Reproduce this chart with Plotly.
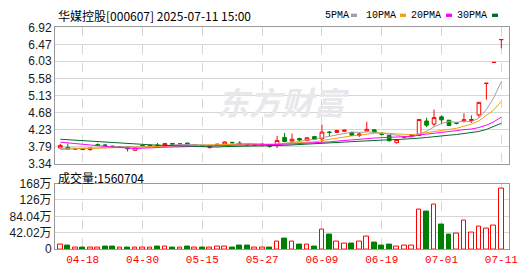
import plotly.graph_objects as go
import pandas as pd

# ---------------- data ----------------
dates = ["04-15", "04-16", "04-17", "04-18", "04-21", "04-22", "04-23", "04-24", "04-25", "04-28",
         "04-29", "04-30", "05-06", "05-07", "05-08", "05-09", "05-12", "05-13", "05-14", "05-15",
         "05-16", "05-19", "05-20", "05-21", "05-22", "05-23", "05-26", "05-27", "05-28", "05-29",
         "05-30", "06-03", "06-04", "06-05", "06-06", "06-09", "06-10", "06-11", "06-12", "06-13",
         "06-16", "06-17", "06-18", "06-19", "06-20", "06-23", "06-24", "06-25", "06-26", "06-27",
         "06-30", "07-01", "07-02", "07-03", "07-04", "07-07", "07-08", "07-09", "07-10", "07-11"]

# closes of the 29 sessions before the first shown day (only used to warm up the moving averages)
pre_close = [4.12, 4.15, 4.18, 4.14, 4.10, 4.13, 4.16, 4.12, 4.11, 4.14,
             4.15, 4.13, 4.10, 4.12, 4.16, 4.11, 4.08, 4.09, 4.06, 4.00,
             3.60, 3.55, 3.68, 3.74, 3.78, 3.72, 3.70, 3.76, 3.73]

opens = [3.75, 3.77, 3.72, 3.73, 3.71, 3.84, 3.83, 3.80, 3.78, 3.79,
         3.69, 3.82, 3.80, 3.83, 3.80, 3.87, 3.85, 3.88, 3.82, 3.81,
         3.76, 3.82, 3.85, 3.90, 3.88, 3.85, 3.82, 3.83, 3.80, 3.82,
         4.03, 3.93, 4.00, 3.95, 4.05, 3.99, 4.17, 4.16, 4.19, 4.16,
         4.08, 4.20, 4.23, 4.13, 4.08, 3.89, 4.03, 4.07, 4.08, 4.46,
         4.38, 4.57, 4.48, 4.41, 4.47, 4.47, 4.62, 5.45, 6.00, 6.60]
highs = [3.86, 3.87, 3.75, 3.75, 3.76, 3.87, 3.85, 3.81, 3.80, 3.79,
         3.77, 3.83, 3.83, 3.88, 3.88, 3.88, 3.87, 3.89, 3.85, 3.82,
         3.81, 3.86, 3.92, 3.91, 3.93, 3.86, 3.85, 3.86, 3.83, 4.07,
         4.15, 4.13, 4.02, 4.03, 4.07, 4.36, 4.19, 4.23, 4.23, 4.18,
         4.16, 4.44, 4.25, 4.17, 4.09, 3.98, 4.07, 4.11, 4.50, 4.55,
         4.76, 4.61, 4.49, 4.43, 4.66, 4.61, 4.95, 5.45, 6.00, 6.60]
lows = [3.74, 3.70, 3.70, 3.70, 3.68, 3.80, 3.80, 3.77, 3.76, 3.66,
        3.67, 3.79, 3.79, 3.80, 3.79, 3.84, 3.84, 3.82, 3.81, 3.79,
        3.74, 3.81, 3.84, 3.87, 3.84, 3.82, 3.81, 3.79, 3.76, 3.75,
        3.91, 3.92, 3.94, 3.94, 3.97, 3.90, 4.05, 4.15, 4.18, 4.07,
        4.04, 4.18, 4.16, 4.08, 3.93, 3.87, 4.00, 4.05, 4.06, 4.30,
        4.32, 4.38, 4.33, 4.37, 4.42, 4.41, 4.56, 5.02, 6.00, 6.37]
closes = [3.82, 3.72, 3.73, 3.71, 3.75, 3.83, 3.82, 3.78, 3.79, 3.73,
          3.76, 3.81, 3.82, 3.81, 3.87, 3.85, 3.86, 3.83, 3.84, 3.80,
          3.81, 3.85, 3.91, 3.89, 3.86, 3.83, 3.84, 3.85, 3.79, 3.95,
          3.92, 3.98, 3.96, 4.02, 3.98, 4.17, 4.16, 4.21, 4.22, 4.08,
          4.12, 4.24, 4.17, 4.11, 3.94, 3.97, 4.05, 4.09, 4.50, 4.35,
          4.55, 4.49, 4.34, 4.40, 4.49, 4.50, 4.95, 5.45, 6.00, 6.60]
# volume in lots (手)
volumes = [114000, 97000, 49000, 49000, 49000, 49000, 73000, 73000, 49000, 49000,
           49000, 49000, 49000, 73000, 73000, 49000, 49000, 73000, 49000, 49000,
           49000, 73000, 73000, 49000, 97000, 97000, 49000, 49000, 49000, 190000,
           270000, 190000, 120000, 114000, 73000, 500000, 365000, 190000, 140000, 150000,
           190000, 330000, 170000, 97000, 120000, 65000, 90000, 90000, 1010000, 970000,
           1140000, 630000, 365000, 406000, 720000, 430000, 576000, 528000, 600000, 1560704]

price_ticks = [3.34, 3.79, 4.23, 4.68, 5.13, 5.58, 6.03, 6.47, 6.92]
vol_tick_vals = [0, 420200, 840400, 1260600, 1680800]
vol_tick_text = ["0", "42.02万", "84.04万", "126万", "168万"]
label_dates = ["04-18", "04-30", "05-15", "05-27", "06-09", "06-19", "07-01", "07-11"]
ma_periods = [5, 10, 20, 30]
ma_colors = ["#a0a0a0", "#f2a10c", "#ff00ff", "#006b2a"]
title_text = "华媒控股[000607] 2025-07-11 15:00"
vol_text = "成交量:1560704"

# ---------------- derived ----------------
RED = "#ff0000"
GREEN = "#008000"
idx = list(range(len(dates)))
tick_idx = [dates.index(d) for d in label_dates]

all_close = pd.Series(pre_close + closes)
n_pre = len(pre_close)
mas = {p: all_close.rolling(p).mean().iloc[n_pre:].tolist() for p in ma_periods}

prev = [pre_close[-1]] + closes[:-1]
vol_up = [c >= pc for c, pc in zip(closes, prev)]
vol_fill = ["#ffffff" if u else GREEN for u in vol_up]
vol_line = [RED if u else GREEN for u in vol_up]

W, H = 530, 276
L, R = 55, 21
PW = W - L - R
STEP = 7.475
FIRST = 60.3


def px_x(p):
    return (p - L) / PW


def px_y(p):
    return 1 - p / H


x_range = [-(FIRST - L) / STEP, -(FIRST - L) / STEP + PW / STEP]

fig = go.Figure()

for p, col in zip(ma_periods, ma_colors):
    fig.add_trace(go.Scatter(x=idx, y=mas[p], mode="lines", line=dict(color=col, width=1),
                             hoverinfo="skip", xaxis="x", yaxis="y", showlegend=False))

fig.add_trace(go.Candlestick(
    x=idx, open=opens, high=highs, low=lows, close=closes,
    increasing=dict(line=dict(color=RED, width=1), fillcolor="#ffffff"),
    decreasing=dict(line=dict(color=GREEN, width=1), fillcolor=GREEN),
    whiskerwidth=0, xaxis="x", yaxis="y", showlegend=False))

fig.add_trace(go.Bar(x=idx, y=volumes, width=0.64,
                     marker=dict(color=vol_fill, line=dict(color=vol_line, width=1)),
                     xaxis="x2", yaxis="y2", showlegend=False))

grid = "#d6d6d6"
border = "#9a9a9a"
tickfont = dict(family="Liberation Sans, Arial, Noto Sans CJK SC", size=12, color="#1a1a1a")

common_x = dict(range=x_range, tickmode="array", tickvals=tick_idx, showgrid=True,
                gridcolor=grid, griddash="dash", gridwidth=1, zeroline=False,
                showline=True, linecolor=border, linewidth=1, mirror=True, ticks="")

fig.update_layout(
    width=W, height=H,
    margin=dict(l=L, r=R, t=0, b=0),
    paper_bgcolor="#ffffff", plot_bgcolor="#ffffff",
    boxgap=0.3,
    bargap=0,
    xaxis=dict(**common_x, anchor="y", showticklabels=False, rangeslider=dict(visible=False)),
    xaxis2=dict(**common_x, anchor="y2", ticktext=label_dates, showticklabels=True,
                tickfont=dict(family="Liberation Mono, monospace", size=11, color=RED)),
    yaxis=dict(domain=[px_y(165), px_y(21.5)], range=[price_ticks[0], price_ticks[-1]],
               tickmode="array", tickvals=price_ticks, ticktext=[f"{v:.2f}" for v in price_ticks],
               showgrid=True, gridcolor=grid, gridwidth=1, zeroline=False,
               showline=True, linecolor=border, linewidth=1, mirror=True, ticks="",
               tickfont=tickfont, anchor="x"),
    yaxis2=dict(domain=[px_y(255), px_y(186)], range=[0, vol_tick_vals[-1]],
                tickmode="array", tickvals=vol_tick_vals, ticktext=vol_tick_text,
                showgrid=True, gridcolor=grid, gridwidth=1, zeroline=False,
                showline=True, linecolor=border, linewidth=1, mirror=True, ticks="",
                tickfont=tickfont, anchor="x2"),
)

annotations = [
    dict(text="<b><i>东方财富</i></b>", x=px_x(283), y=px_y(99), xref="paper", yref="paper",
         showarrow=False, xanchor="center", yanchor="middle",
         font=dict(family="Noto Sans CJK SC", size=32, color="#e8e8ec")),
    dict(text=title_text, x=px_x(56), y=px_y(8.5), xref="paper", yref="paper",
         showarrow=False, xanchor="left", yanchor="middle",
         font=dict(family="Noto Sans CJK SC", size=12, color="#000000")),
    dict(text=vol_text, x=px_x(56), y=px_y(180), xref="paper", yref="paper",
         showarrow=False, xanchor="left", yanchor="middle",
         font=dict(family="Noto Sans CJK SC", size=12, color="#000000")),
]
legend_pos = [(350, 351), (397, 400), (442, 446), (488, 492)]
shapes = []
for p, col, (tx, sx) in zip(ma_periods, ma_colors, legend_pos):
    annotations.append(dict(text=f"{p}PMA", x=px_x(tx + 1), y=px_y(8.5), xref="paper", yref="paper",
                            showarrow=False, xanchor="right", yanchor="middle",
                            font=dict(family="Liberation Mono, monospace", size=10, color="#000000")))
    shapes.append(dict(type="rect", xref="paper", yref="paper", x0=px_x(sx), x1=px_x(sx + 6),
                       y0=px_y(10.5), y1=px_y(7), fillcolor=col, line=dict(width=0)))

fig.update_layout(annotations=annotations, shapes=shapes)

fig.write_html("out.html")
